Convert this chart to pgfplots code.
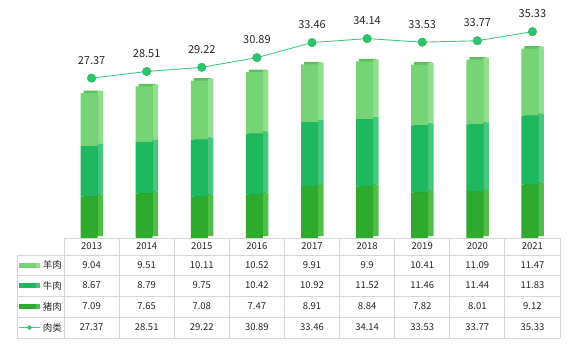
\documentclass[border=0pt]{standalone}
\usepackage{pgfplots}
\usepackage{pgfplotstable}
\pgfplotsset{compat=1.18}
\usepackage{fontspec}
\setmainfont{Noto Sans CJK SC}
\definecolor{porkF}{HTML}{2EAA2D}
\definecolor{porkS}{HTML}{52BD4B}
\definecolor{porkT}{HTML}{1E8A1E}
\definecolor{beefF}{HTML}{1DB860}
\definecolor{beefS}{HTML}{47C67E}
\definecolor{beefT}{HTML}{16994C}
\definecolor{muttF}{HTML}{76D476}
\definecolor{muttS}{HTML}{90DE8E}
\definecolor{muttT}{HTML}{5DBF5E}
\definecolor{lineC}{HTML}{3ECB84}
\definecolor{markC}{HTML}{2BC56C}
\definecolor{gridC}{HTML}{D6D6D6}
\definecolor{textC}{HTML}{262626}

\pgfplotstableread{
x pork beef mutton total
0 7.09 8.67 9.04 27.37
1 7.65 8.79 9.51 28.51
2 7.08 9.75 10.11 29.22
3 7.47 10.42 10.52 30.89
4 8.91 10.92 9.91 33.46
5 8.84 11.52 9.9 34.14
6 7.82 11.46 10.41 33.53
7 8.01 11.44 11.09 33.77
8 9.12 11.83 11.47 35.33
}\data

\pgfplotsset{base/.style={scale only axis, width=496pt, height=238pt,
  xmin=-0.5, xmax=8.5, ymin=0, ymax=40.75, hide axis, clip=false,
  anchor=south west}}

\begin{document}
\begin{tikzpicture}[x=1pt,y=1pt]
\path (-64,-113) rectangle (505,238);
% top faces (darker, shifted back)
\begin{axis}[base, at={(3pt,2.5pt)}, ybar stacked, bar width=17pt, bar shift=-2.5pt]
\addplot[fill=porkT, draw=none] table[x=x,y=pork]{\data};
\addplot[fill=beefT, draw=none] table[x=x,y=beef]{\data};
\addplot[fill=muttT, draw=none] table[x=x,y=mutton]{\data};
\end{axis}
% side faces
\begin{axis}[base, at={(0pt,2pt)}, ybar stacked, bar width=5.5pt, bar shift=8.75pt]
\addplot[fill=porkS, draw=none] table[x=x,y=pork]{\data};
\addplot[fill=beefS, draw=none] table[x=x,y=beef]{\data};
\addplot[fill=muttS, draw=none] table[x=x,y=mutton]{\data};
\end{axis}
% front faces
\begin{axis}[base, at={(0pt,0pt)}, ybar stacked, bar width=17pt, bar shift=-2.5pt]
\addplot[fill=porkF, draw=none] table[x=x,y=pork]{\data};
\addplot[fill=beefF, draw=none] table[x=x,y=beef]{\data};
\addplot[fill=muttF, draw=none] table[x=x,y=mutton]{\data};
\end{axis}
% total line
\begin{axis}[base, at={(0pt,0pt)}]
\addplot[color=lineC, line width=0.9pt, mark=*, mark size=4.3pt,
  mark options={fill=markC, draw=markC!85!black, line width=0.3pt},
  nodes near coords, point meta=explicit symbolic,
  every node near coord/.append style={font=\fontsize{11}{13}\selectfont, color=textC, anchor=center, yshift=18pt}]
  table[x=x,y=total,meta=total]{\data};
\end{axis}
% data table
\begin{scope}[gridC, line width=0.8pt]
\foreach \k in {0,...,9} \draw ({55.111*\k},0) -- ({55.111*\k},-100);
\draw (-47,-17) -- (-47,-100);
\draw (0,0) -- (496,0);
\foreach \y in {-17,-37,-58,-79,-100} \draw (-47,\y) -- (496,\y);
\end{scope}
\begin{scope}[font=\fontsize{9.5}{11}\selectfont, text=textC]
\foreach \k in {0,...,8}{
  \pgfmathtruncatemacro{\yr}{2013+\k}
  \node at ({55.111*(\k+0.5)},-8.5) {\yr};
  \pgfplotstablegetelem{\k}{mutton}\of\data
  \node at ({55.111*(\k+0.5)},-27) {\pgfplotsretval};
  \pgfplotstablegetelem{\k}{beef}\of\data
  \node at ({55.111*(\k+0.5)},-47.5) {\pgfplotsretval};
  \pgfplotstablegetelem{\k}{pork}\of\data
  \node at ({55.111*(\k+0.5)},-68.5) {\pgfplotsretval};
  \pgfplotstablegetelem{\k}{total}\of\data
  \node at ({55.111*(\k+0.5)},-89.5) {\pgfplotsretval};
}
% legend keys
\fill[muttF] (-45,-29.5) rectangle (-28,-24.5); \fill[muttS] (-28,-29.5) rectangle (-24,-24.5);
\fill[beefF] (-45,-50) rectangle (-28,-45); \fill[beefS] (-28,-50) rectangle (-24,-45);
\fill[porkF] (-45,-71) rectangle (-28,-66); \fill[porkS] (-28,-71) rectangle (-24,-66);
\draw[lineC, line width=0.9pt] (-45,-89.5) -- (-24,-89.5);
\fill[markC] (-34.5,-89.5) circle (2.2);
\node[anchor=east, inner sep=0pt] at (-2,-27) {羊肉};
\node[anchor=east, inner sep=0pt] at (-2,-47.5) {牛肉};
\node[anchor=east, inner sep=0pt] at (-2,-68.5) {猪肉};
\node[anchor=east, inner sep=0pt] at (-2,-89.5) {肉类};
\end{scope}
\end{tikzpicture}
\end{document}
